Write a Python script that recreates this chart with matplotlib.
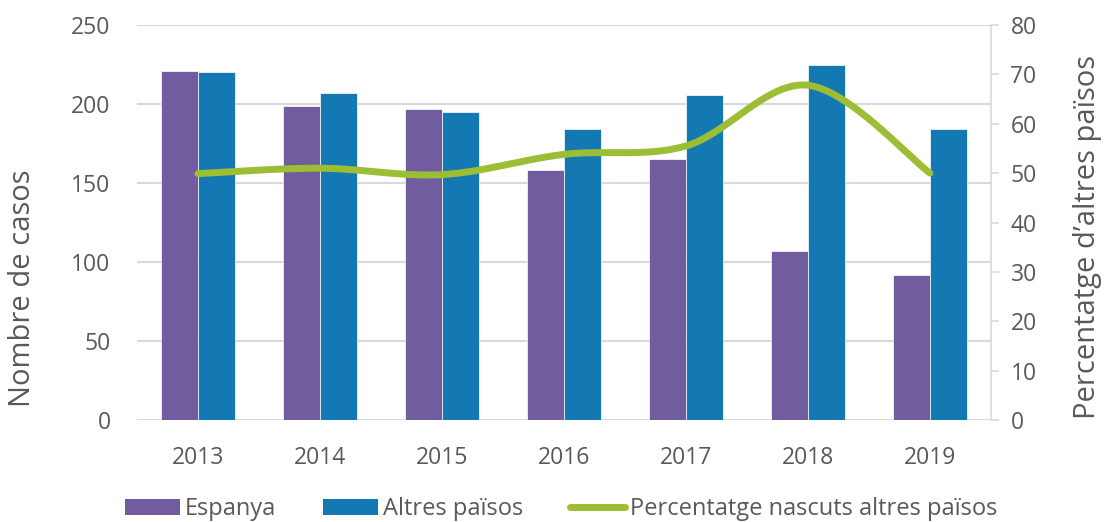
import numpy as np
import matplotlib
matplotlib.use('Agg')
import matplotlib.pyplot as plt
from matplotlib.patches import Patch
from matplotlib.lines import Line2D

plt.rcParams['font.family'] = ['Open Sans', 'DejaVu Sans']

# data
anys = ['2013', '2014', '2015', '2016', '2017', '2018', '2019']
espanya = [221, 199, 197, 158, 165, 107, 92]
altres = [220, 207, 195, 184, 206, 225, 184]
percentatge = [49.9, 51.0, 49.7, 53.8, 55.5, 67.8, 50.0]

c_esp = '#715C9F'
c_alt = '#1479B3'
c_pct = '#9BBE35'
c_txt = '#595959'
c_grid = '#D9D9D9'


def smooth(xs, ys, n=40):
    # bezier smoothing like the office chart "smoothed line"
    pts = np.column_stack([xs, ys]).astype(float)
    ext = np.vstack([pts[0], pts, pts[-1]])
    out = []
    t = np.linspace(0, 1, n)[:, None]
    for i in range(len(pts) - 1):
        p0, p3 = ext[i + 1], ext[i + 2]
        p1 = p0 + (ext[i + 2] - ext[i]) / 6
        p2 = p3 - (ext[i + 3] - ext[i + 1]) / 6
        seg = (1 - t) ** 3 * p0 + 3 * (1 - t) ** 2 * t * p1 + 3 * (1 - t) * t ** 2 * p2 + t ** 3 * p3
        out.append(seg if i == 0 else seg[1:])
    out = np.vstack(out)
    return out[:, 0], out[:, 1]


fig = plt.figure(figsize=(11.07, 5.22), dpi=100)
ax = fig.add_axes([137 / 1107, 1 - 420 / 522, (991 - 137) / 1107, 395 / 522])
ax2 = ax.twinx()

x = np.arange(len(anys))
w = 0.303
ax.bar(x - w / 2, espanya, w, color=c_esp, edgecolor='white', linewidth=0.5, zorder=2)
ax.bar(x + w / 2, altres, w, color=c_alt, edgecolor='white', linewidth=0.5, zorder=2)

sx, sy = smooth(x, percentatge)
ax2.plot(sx, sy, color=c_pct, lw=5, solid_capstyle='round', zorder=3)

ax.set_xlim(-0.5, len(anys) - 0.5)
ax.set_ylim(0, 250)
ax.set_yticks(range(0, 251, 50))
ax2.set_ylim(0, 80)
ax2.set_yticks(range(0, 81, 10))

ax.yaxis.grid(True, color=c_grid, lw=1.5, zorder=0)
ax.set_axisbelow(True)
for s in ['top', 'left', 'right', 'bottom']:
    ax.spines[s].set_visible(False)
    ax2.spines[s].set_visible(False)
ax2.spines['right'].set_visible(True)
ax2.spines['right'].set_color(c_grid)
ax2.spines['right'].set_linewidth(1.2)

ax.set_xticks(x)
ax.set_xticklabels(anys)
ax.tick_params(axis='x', length=0, pad=19, labelsize=16.5, labelcolor=c_txt)
ax.tick_params(axis='y', length=0, pad=19, labelsize=16.5, labelcolor=c_txt)
ax2.tick_params(axis='y', length=6, width=1.2, color=c_grid, pad=8, labelsize=16.5, labelcolor=c_txt)

ax.set_ylabel('Nombre de casos', fontsize=21, color=c_txt)
ax.yaxis.set_label_coords((37 - 137) / 854, (420 - 288) / 395)
ax2.set_ylabel('Percentatge d\u2019altres països', fontsize=21, color=c_txt, rotation=90)
ax2.yaxis.set_label_coords((1073 - 137) / 854, (420 - 237) / 395)

handles = [
    Patch(facecolor=c_esp, label='Espanya'),
    Patch(facecolor=c_alt, label='Altres països'),
    Line2D([0], [0], color=c_pct, lw=5, solid_capstyle='round', label='Percentatge nascuts altres països'),
]
fig.legend(handles=handles, loc='center', bbox_to_anchor=(0.507, 1 - 509 / 522), ncol=3,
           frameon=False, fontsize=17, labelcolor=c_txt, handlelength=2.3, handleheight=0.66,
           handletextpad=0.22, columnspacing=2.0, borderaxespad=0, borderpad=0)

fig.savefig('out.png', dpi=100)
